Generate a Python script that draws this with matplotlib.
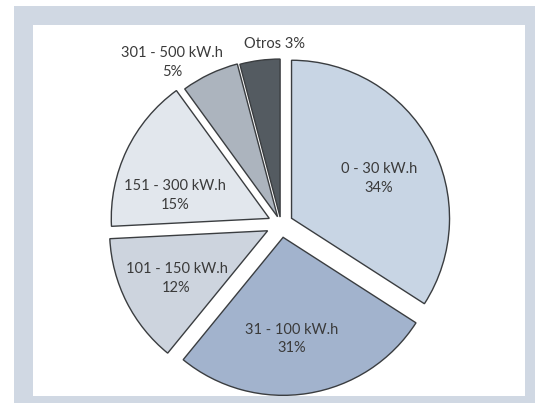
import matplotlib.pyplot as plt
from matplotlib.patches import Rectangle

# datos del grafico
rangos = ['0 - 30 kW.h', '31 - 100 kW.h', '101 - 150 kW.h',
          '151 - 300 kW.h', '301 - 500 kW.h', 'Otros']
porcentajes = ['34%', '31%', '12%', '15%', '5%', '3%']
# tamanio de cada porcion tal como esta dibujada
tamanios = [34.1, 26.8, 13.3, 15.8, 5.9, 4.1]

colores = ['#c8d5e4', '#a2b3cd', '#cdd4de', '#e2e7ed', '#acb4be', '#545b61']
radio_px = 158
centro_px = (281, 224)
separacion = [d / radio_px for d in (12, 13.5, 15, 13, 8, 7)]
# posicion de los textos (en radios, respecto del centro)
pos_textos = [(0.620, 0.285), (0.070, -0.728), (-0.661, -0.342),
              (-0.671, 0.180), (-0.690, 1.022), (-0.044, 1.139)]

plt.rcParams['font.family'] = ['Lato', 'DejaVu Sans']

fig = plt.figure(figsize=(5.35, 4.03), dpi=100)

# marco de fondo, en pixeles
fondo = fig.add_axes([0, 0, 1, 1], zorder=-1)
fondo.set_xlim(0, 535)
fondo.set_ylim(403, 0)
fondo.add_patch(Rectangle((14, 6), 521, 397, facecolor='#d0d8e3', edgecolor='none'))
fondo.add_patch(Rectangle((33, 25), 492, 371, facecolor='white', edgecolor='none'))
fondo.axis('off')

ax = fig.add_axes([0, 0, 1, 1])
ax.set_facecolor('none')
ax.pie(tamanios, colors=colores, explode=separacion, startangle=90, counterclock=False,
       wedgeprops={'edgecolor': '#3a3d40', 'linewidth': 1.0})

for cont, rango in enumerate(rangos):
    if rango == 'Otros':
        texto = rango + ' ' + porcentajes[cont]
    else:
        texto = rango + '\n' + porcentajes[cont]
    x, y = pos_textos[cont]
    ax.text(x, y, texto, ha='center', va='center', fontsize=10.5,
            color='#3a3a3a', linespacing=1.45)

cx, cy = centro_px
ax.set_xlim(-cx / radio_px, (535 - cx) / radio_px)
ax.set_ylim(-(403 - cy) / radio_px, cy / radio_px)
ax.set_aspect('auto')
ax.axis('off')

plt.savefig('out.png', dpi=100)
